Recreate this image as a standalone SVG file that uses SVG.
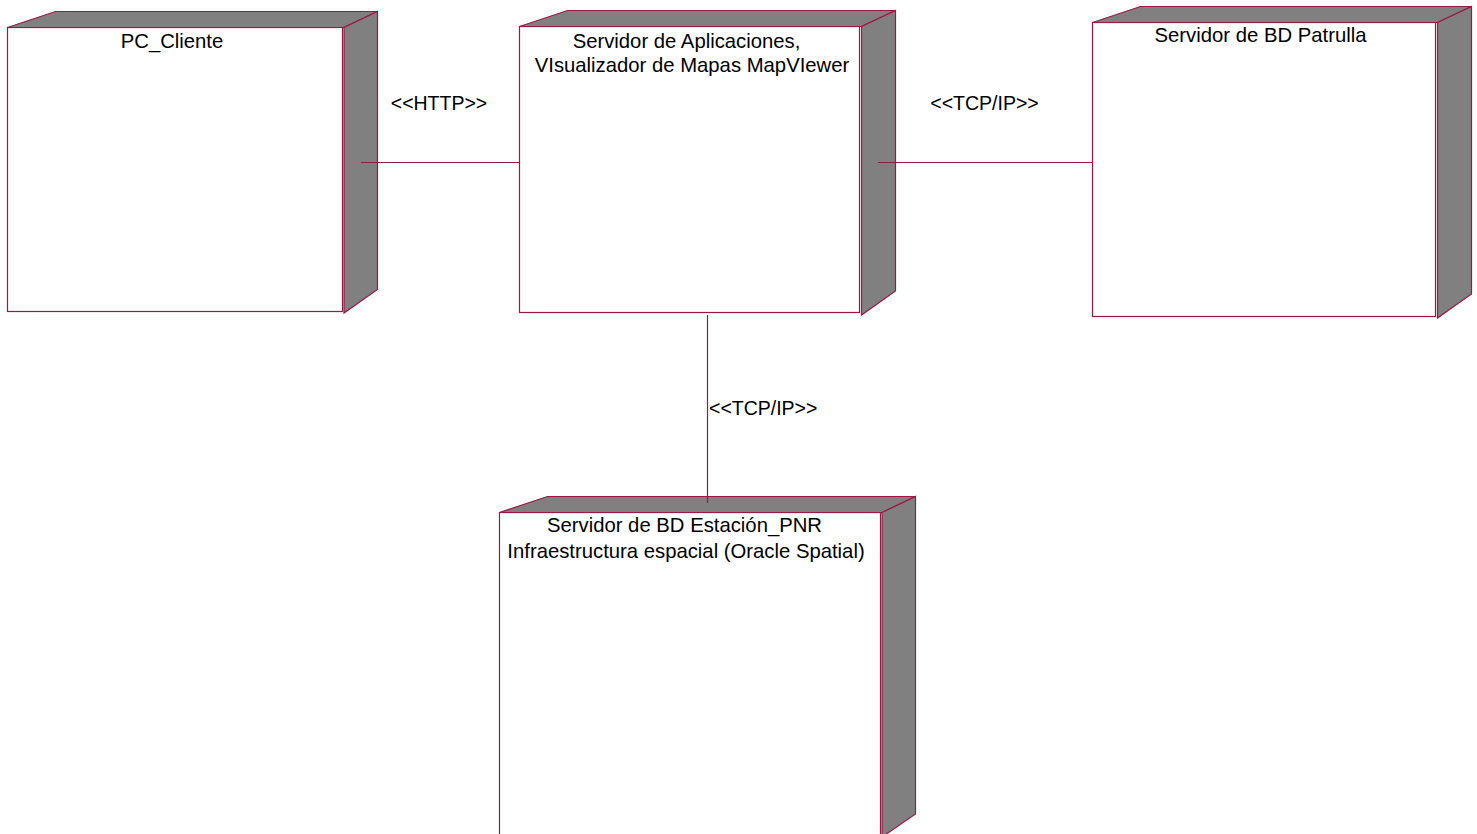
<svg xmlns="http://www.w3.org/2000/svg" width="1477" height="834" viewBox="0 0 1477 834">
<style>
.front{fill:#ffffff;stroke:#9c1745;stroke-width:1.2}
.face{fill:#808080;stroke:#9c1745;stroke-width:1.2;stroke-linejoin:miter}
.lbl{font-family:"Liberation Sans",Arial,sans-serif;font-size:19.5px;fill:#000000}
.name{font-family:"Liberation Sans",Arial,sans-serif;font-size:20.3px;fill:#000000;text-anchor:middle}
.conn{stroke:#9c1745;stroke-width:1.2;fill:none}
</style>
<rect width="1477" height="834" fill="#ffffff"/>
<g id="node-pc-cliente">
<rect class="front" x="7.5" y="27.5" width="335" height="284"/>
<polygon class="face" points="7.5,27.5 55.5,11.5 377.5,11.5 343.5,27.5"/>
<polygon class="face" points="344,27.5 377.5,11.5 377.5,289.5 344,313"/>
<text class="name" x="172" y="48">PC_Cliente</text>
</g>
<g id="node-servidor-aplicaciones">
<rect class="front" x="519.5" y="26.5" width="340" height="286"/>
<polygon class="face" points="519.5,26.5 567.5,10.5 895.5,10.5 861.5,26.5"/>
<polygon class="face" points="861.5,26.5 895.5,10.5 895.5,291 861.5,315"/>
<text class="name" x="686.5" y="48">Servidor de Aplicaciones,</text>
<text class="name" x="692" y="72">VIsualizador de Mapas MapVIewer</text>
</g>
<g id="node-servidor-bd-patrulla">
<rect class="front" x="1092.5" y="22.5" width="343" height="294"/>
<polygon class="face" points="1092.5,22.5 1140.5,6.5 1471.5,6.5 1437.5,22.5"/>
<polygon class="face" points="1437.5,22.5 1471.5,6.5 1471.5,294 1437.5,318"/>
<text class="name" x="1260.5" y="42">Servidor de BD Patrulla</text>
</g>
<g id="node-servidor-bd-estacion">
<rect class="front" x="499.5" y="512.5" width="381" height="330"/>
<polygon class="face" points="499.5,512.5 547.5,496.5 915.5,496.5 882,512.5"/>
<polygon class="face" points="882,512.5 915.5,496.5 915.5,814 882,837"/>
<text class="name" x="684.5" y="532">Servidor de BD Estación_PNR</text>
<text class="name" x="686" y="558">Infraestructura espacial (Oracle Spatial)</text>
</g>
<g id="connectors">
<line class="conn" x1="361" y1="162.5" x2="519" y2="162.5"/>
<line class="conn" x1="878" y1="162.5" x2="1092" y2="162.5"/>
<line class="conn" x1="707.5" y1="315" x2="707.5" y2="503"/>
<text class="lbl" x="439" y="110" text-anchor="middle">&lt;&lt;HTTP&gt;&gt;</text>
<text class="lbl" x="984.5" y="110" text-anchor="middle">&lt;&lt;TCP/IP&gt;&gt;</text>
<text class="lbl" x="709" y="415">&lt;&lt;TCP/IP&gt;&gt;</text>
</g>
</svg>
